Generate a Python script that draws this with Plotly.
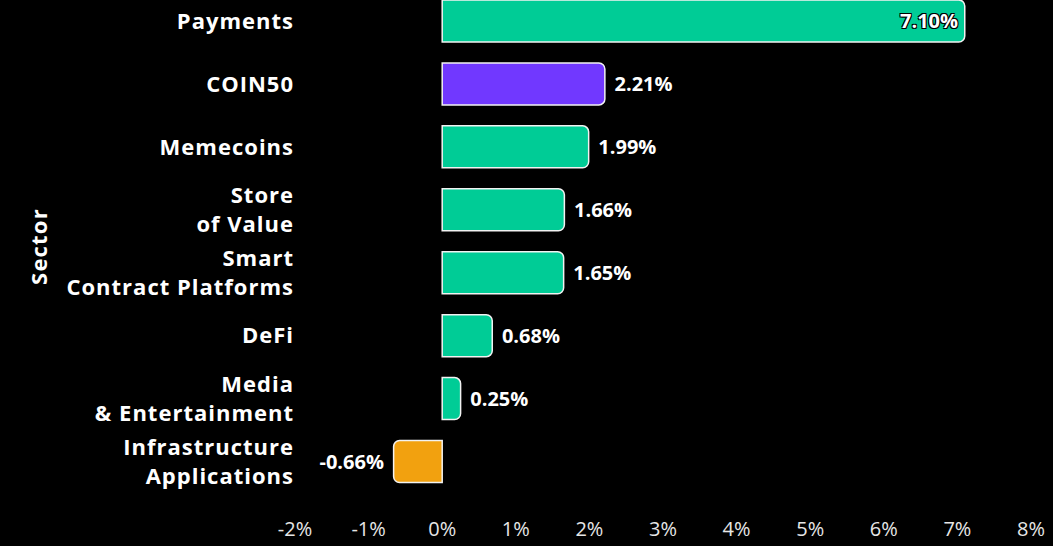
import plotly.graph_objects as go

sectors = ["Payments", "COIN50", "Memecoins", "Store<br>of Value",
           "Smart<br>Contract Platforms", "DeFi", "Media<br>& Entertainment",
           "Infrastructure<br>Applications"]
returns = [7.10, 2.21, 1.99, 1.66, 1.65, 0.68, 0.25, -0.66]
labels = ["7.10%\u2009", "\u20042.21%", "\u20041.99%", "\u20041.66%", "\u20041.65%",
          "\u20040.68%", "\u20040.25%", "-0.66%\u2004"]
colors = ["#00CC96", "#7138FF", "#00CC96", "#00CC96", "#00CC96", "#00CC96", "#00CC96", "#F2A10F"]
positions = ["inside", "outside", "outside", "outside", "outside", "outside", "outside", "outside"]
x_ticks = [-2, -1, 0, 1, 2, 3, 4, 5, 6, 7, 8]
x_tick_text = ["-2%", "-1%", "0%", "1%", "2%", "3%", "4%", "5%", "6%", "7%", "8%"]

FONT = "Open Sans"


def spaced(s, px=1):
    return "<br>".join(f'<span style="letter-spacing:{px}px">{ln}</span>' for ln in s.split("<br>"))


fig = go.Figure(go.Bar(
    x=returns, y=sectors, orientation="h",
    marker=dict(color=colors, line=dict(color="#f2f2f2", width=1.5), cornerradius=6),
    text=labels, textposition=positions, insidetextanchor="end",
    insidetextfont=dict(family=FONT, size=20, color="white", weight="bold",
                        shadow="-1px -1px 0 #000, 1px -1px 0 #000, -1px 1px 0 #000, 1px 1px 0 #000"),
    outsidetextfont=dict(family=FONT, size=20, color="white", weight="bold"),
    cliponaxis=False, width=0.667,
))

fig.update_layout(
    width=1053, height=546,
    margin=dict(l=295, r=22, t=0, b=53),
    paper_bgcolor="black", plot_bgcolor="black",
    showlegend=False,
    font=dict(family=FONT, color="white"),
)
fig.update_xaxes(range=[-2, 8], tickvals=x_ticks, ticktext=x_tick_text, showgrid=False,
                 zeroline=False, showline=False, ticklabelstandoff=22,
                 tickfont=dict(family=FONT, size=20, color="#e6e6e6"))
fig.update_yaxes(type="category", range=[7.5, -0.333], showgrid=False, zeroline=False,
                 tickvals=sectors, ticktext=[spaced(s) for s in sectors],
                 tickfont=dict(family=FONT, size=22, color="white", weight="bold"),
                 title=dict(text=spaced("Sector", 1.2), font=dict(family=FONT, size=22, color="white", weight="bold"), standoff=12))

fig.write_html("out.html")
